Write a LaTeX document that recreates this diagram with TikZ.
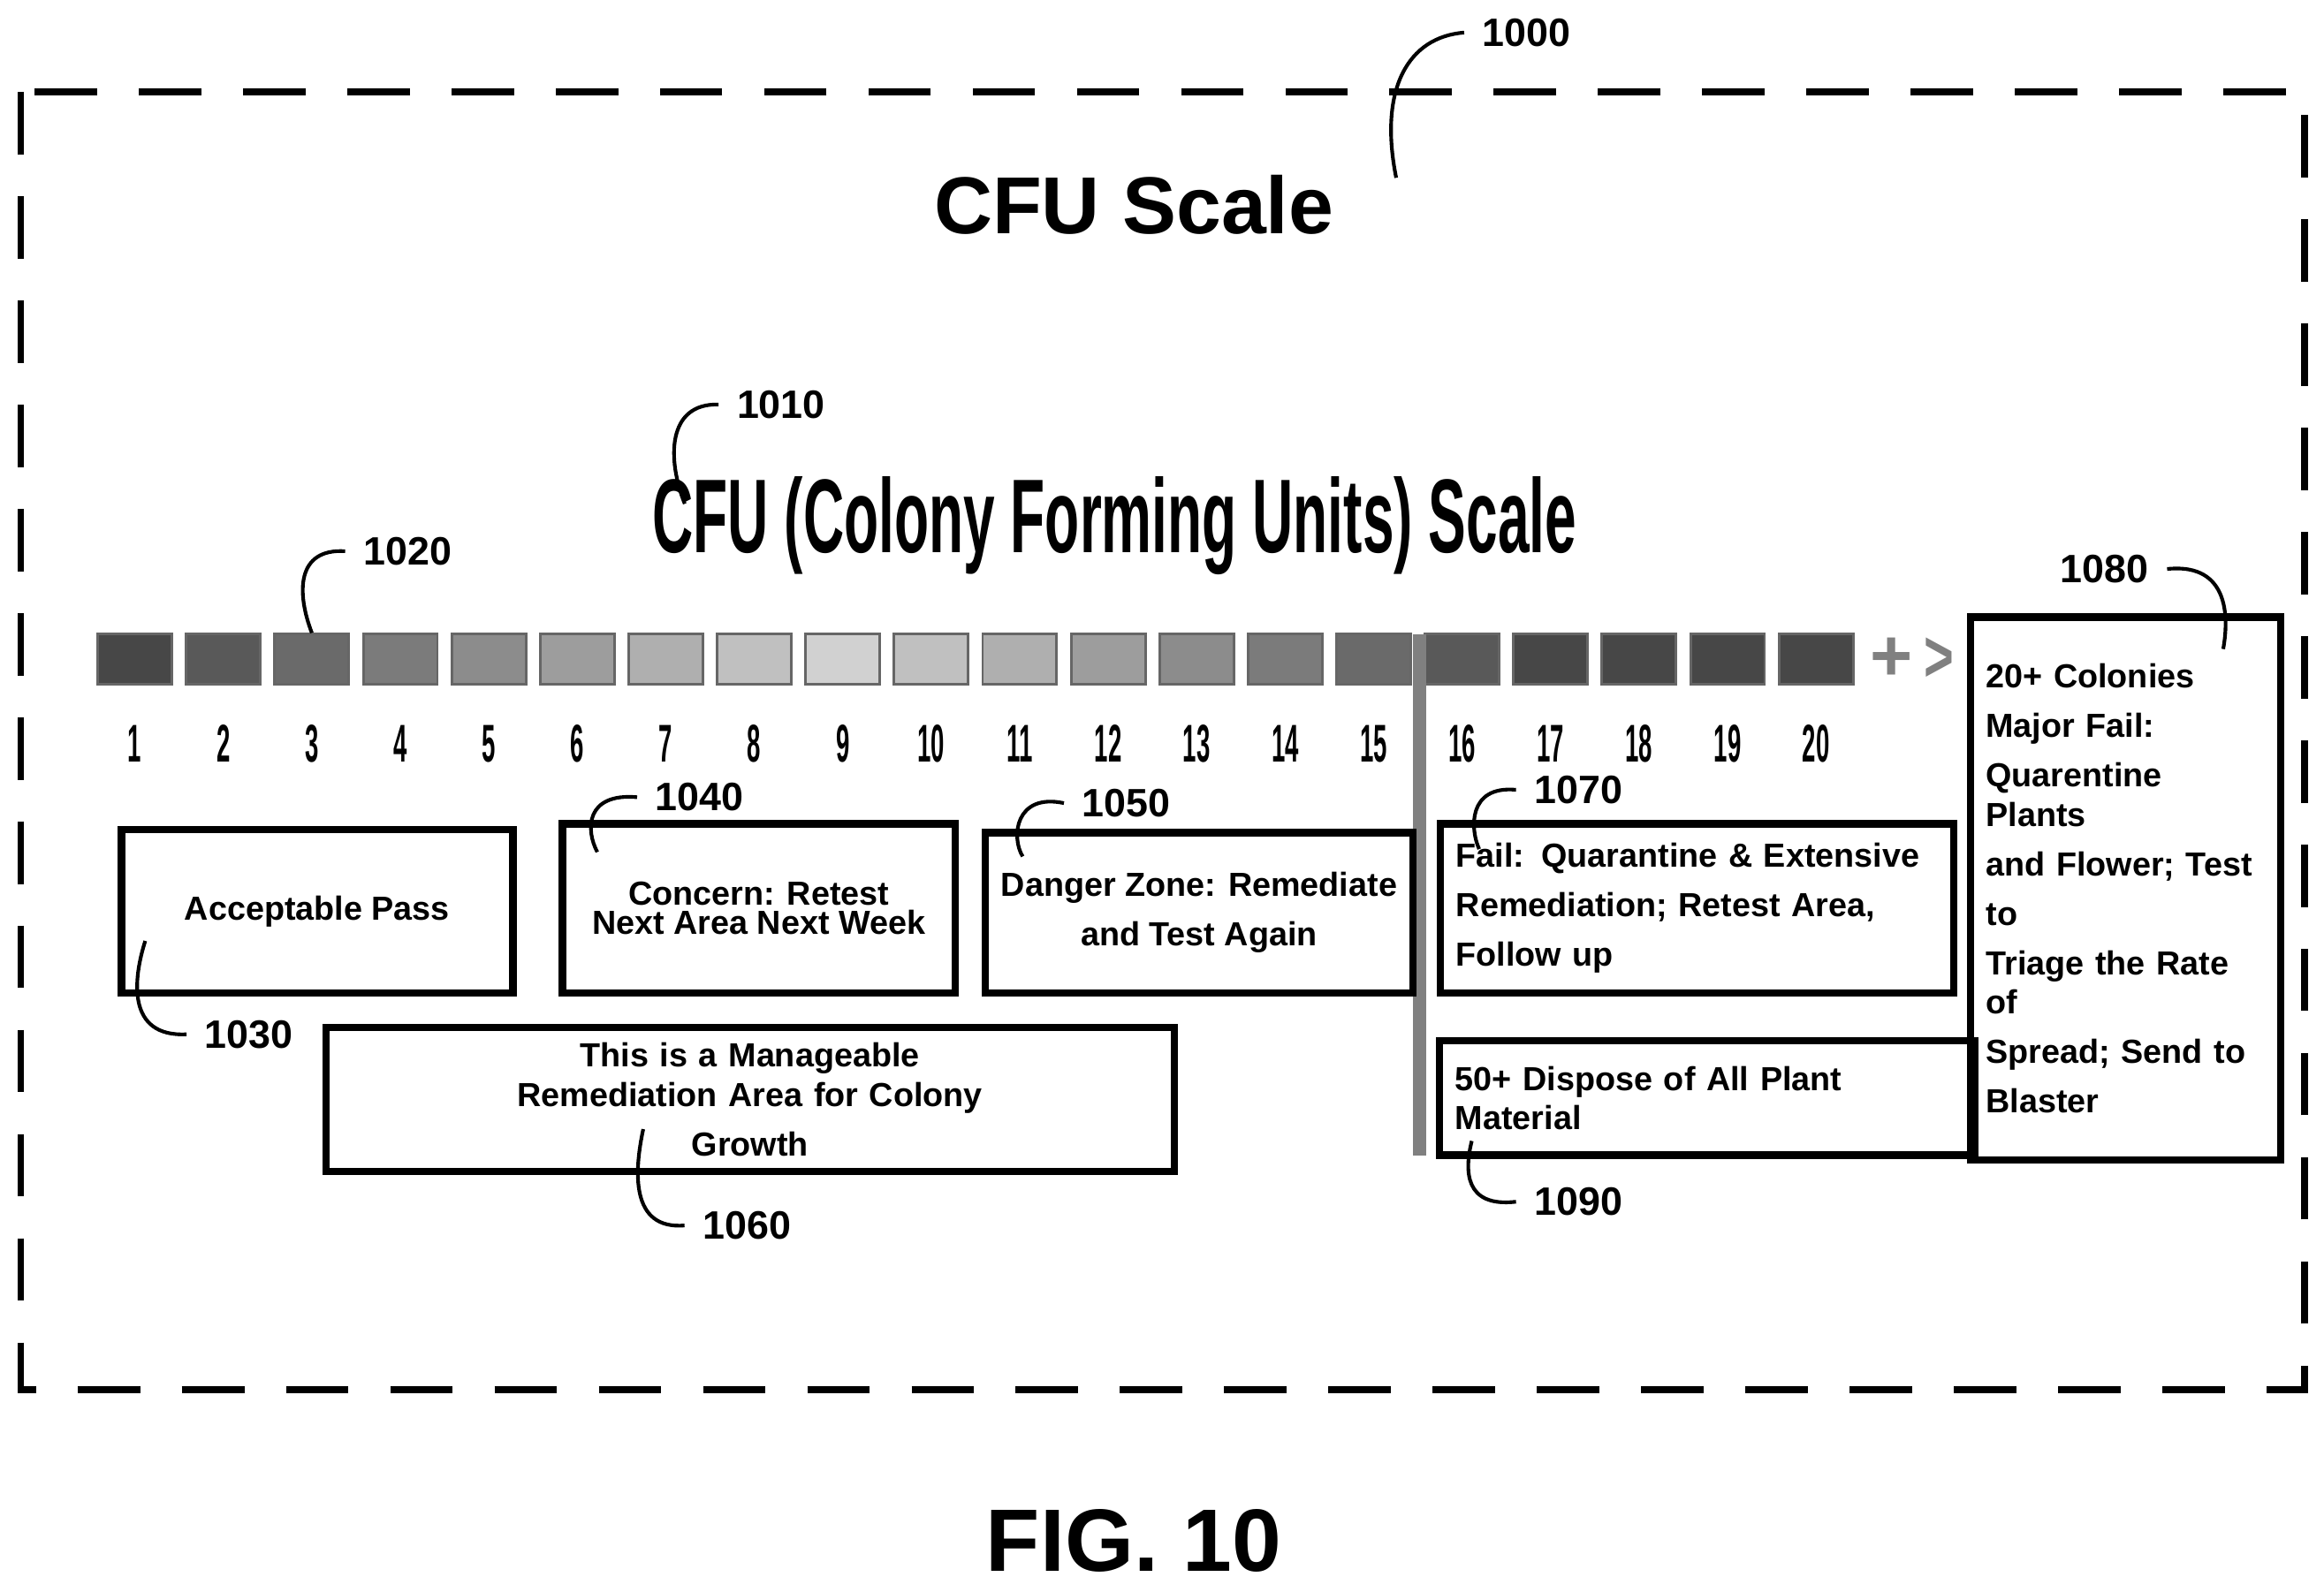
\documentclass[tikz,border=0pt]{standalone}
\usepackage{fontspec}
\setmainfont{Liberation Sans}
\usetikzlibrary{positioning,calc}
\tikzset{
  box/.style={draw,line width=1.4pt,inner sep=3pt,font=\fontsize{6.4}{7.5}\selectfont\bfseries,
    execute at begin node={\hyphenpenalty=10000\relax}},
  ref/.style={font=\fontsize{7.6}{9}\selectfont\bfseries},
  lead/.style={line width=0.7pt},
  seg/.style={draw=gray!80!black,line width=0.5pt,minimum width=0.5cm,minimum height=0.34cm,inner sep=0pt},
  num/.style={font=\fontsize{8.5}{9}\selectfont\bfseries,xscale=0.55,yscale=1.2}
}
\begin{document}
\begin{tikzpicture}[x=0.01cm,y=-0.01cm]
\useasboundingbox (0,0) rectangle (1568,1074);
\draw[dash pattern=on 12pt off 8pt,line width=1.3pt] (14,62) rectangle (1555,938);

\node (title) at (765,138) {\fontsize{15.5}{18}\selectfont\bfseries CFU Scale};
\node[ref] (r1000) at (1030,22) {1000};
\draw[lead] (r1000.west) .. controls (950,25) and (930,60) .. (942,120);

\node (scale) at (752,355) {\scalebox{0.62}[1.15]{\fontsize{17.5}{20}\selectfont\bfseries CFU (Colony Forming Units) Scale}};
\node[ref] (r1010) at (527,273) {1010};
\draw[lead] (r1010.west) .. controls (450,272) and (450,310) .. (462,340);

% scale bar
\foreach \i in {1,...,20}{
  \pgfmathsetmacro{\shade}{min(72,18+54*abs(\i-9)/8)}
  \node[seg,top color=black!\shade!white,bottom color=black!\shade] (b\i) at ({91+59.7*(\i-1)},445) {};
  \node[num] (n\i) at ({91+59.7*(\i-1)},502) {\i};
}
\node[font=\fontsize{14}{14}\selectfont\bfseries,text=gray] (plus) at (1276,445) {+};
\node[font=\fontsize{14}{14}\selectfont\bfseries,text=gray,xscale=0.7] (more) at (1308,445) {>};
\draw[gray,line width=2.5pt] (958,428) -- (958,780);
\node[ref] (r1020) at (275,372) {1020};
\draw[lead] (r1020.west) .. controls (200,370) and (200,400) .. (b3.north);

% boxes
\node[box,minimum width=2.64cm,minimum height=1.1cm] (pass) at (214,615) {Acceptable Pass};
\node[box,minimum width=2.65cm,minimum height=1.14cm,align=center] (concern) at (512,613) {Concern: Retest\\[-2pt]Next Area Next Week};
\node[box,minimum width=2.66cm,minimum height=1.08cm,align=center] (danger) at (809,616) {Danger Zone: Remediate\\[2pt]and Test Again};
\node[box,minimum width=3.46cm,minimum height=1.14cm,align=left,text width=3.25cm] (fail) at (1145,613) {Fail: Quarantine \& Extensive\\[2pt]Remediation; Retest Area,\\[2pt]Follow up};
\node[box,minimum width=5.72cm,minimum height=0.75cm,align=center,text width=5.4cm] (manage) at (506,742) {This is a Manageable Remediation Area for Colony\\[2pt]Growth};
\node[box,minimum width=3.6cm,minimum height=0.77cm,align=left,text width=3.4cm] (dispose) at (1152,741) {50+ Dispose of All Plant Material};
\node[box,minimum width=2.04cm,minimum height=3.66cm,align=left,text width=1.88cm,anchor=north] (major) at (1434,414) {20+ Colonies\\[2pt]Major Fail:\\[2pt]Quarentine Plants\\[2pt]and Flower; Test\\[2pt]to\\[2pt]Triage the Rate of\\[2pt]Spread; Send to\\[2pt]Blaster\\[48pt]};

% reference numerals
\node[ref] (r1030) at (168,698) {1030};
\draw[lead] (r1030.west) .. controls (85,700) and (90,660) .. (98,635);
\node[ref] (r1040) at (472,538) {1040};
\draw[lead] (r1040.west) .. controls (395,535) and (395,560) .. (403,575);
\node[ref] (r1050) at (760,542) {1050};
\draw[lead] (r1050.west) .. controls (685,535) and (682,565) .. (690,578);
\node[ref] (r1060) at (504,827) {1060};
\draw[lead] (r1060.west) .. controls (425,830) and (428,790) .. (434,762);
\node[ref] (r1070) at (1065,533) {1070};
\draw[lead] (r1070.west) .. controls (990,530) and (992,560) .. (998,573);
\node[ref] (r1090) at (1065,811) {1090};
\draw[lead] (r1090.west) .. controls (988,815) and (988,790) .. (993,770);
\node[ref] (r1080) at (1420,384) {1080};
\draw[lead] (r1080.east) .. controls (1500,380) and (1505,410) .. (1500,438);

\node (fig) at (765,1040) {\fontsize{17}{20}\selectfont\bfseries FIG. 10};
\end{tikzpicture}
\end{document}
